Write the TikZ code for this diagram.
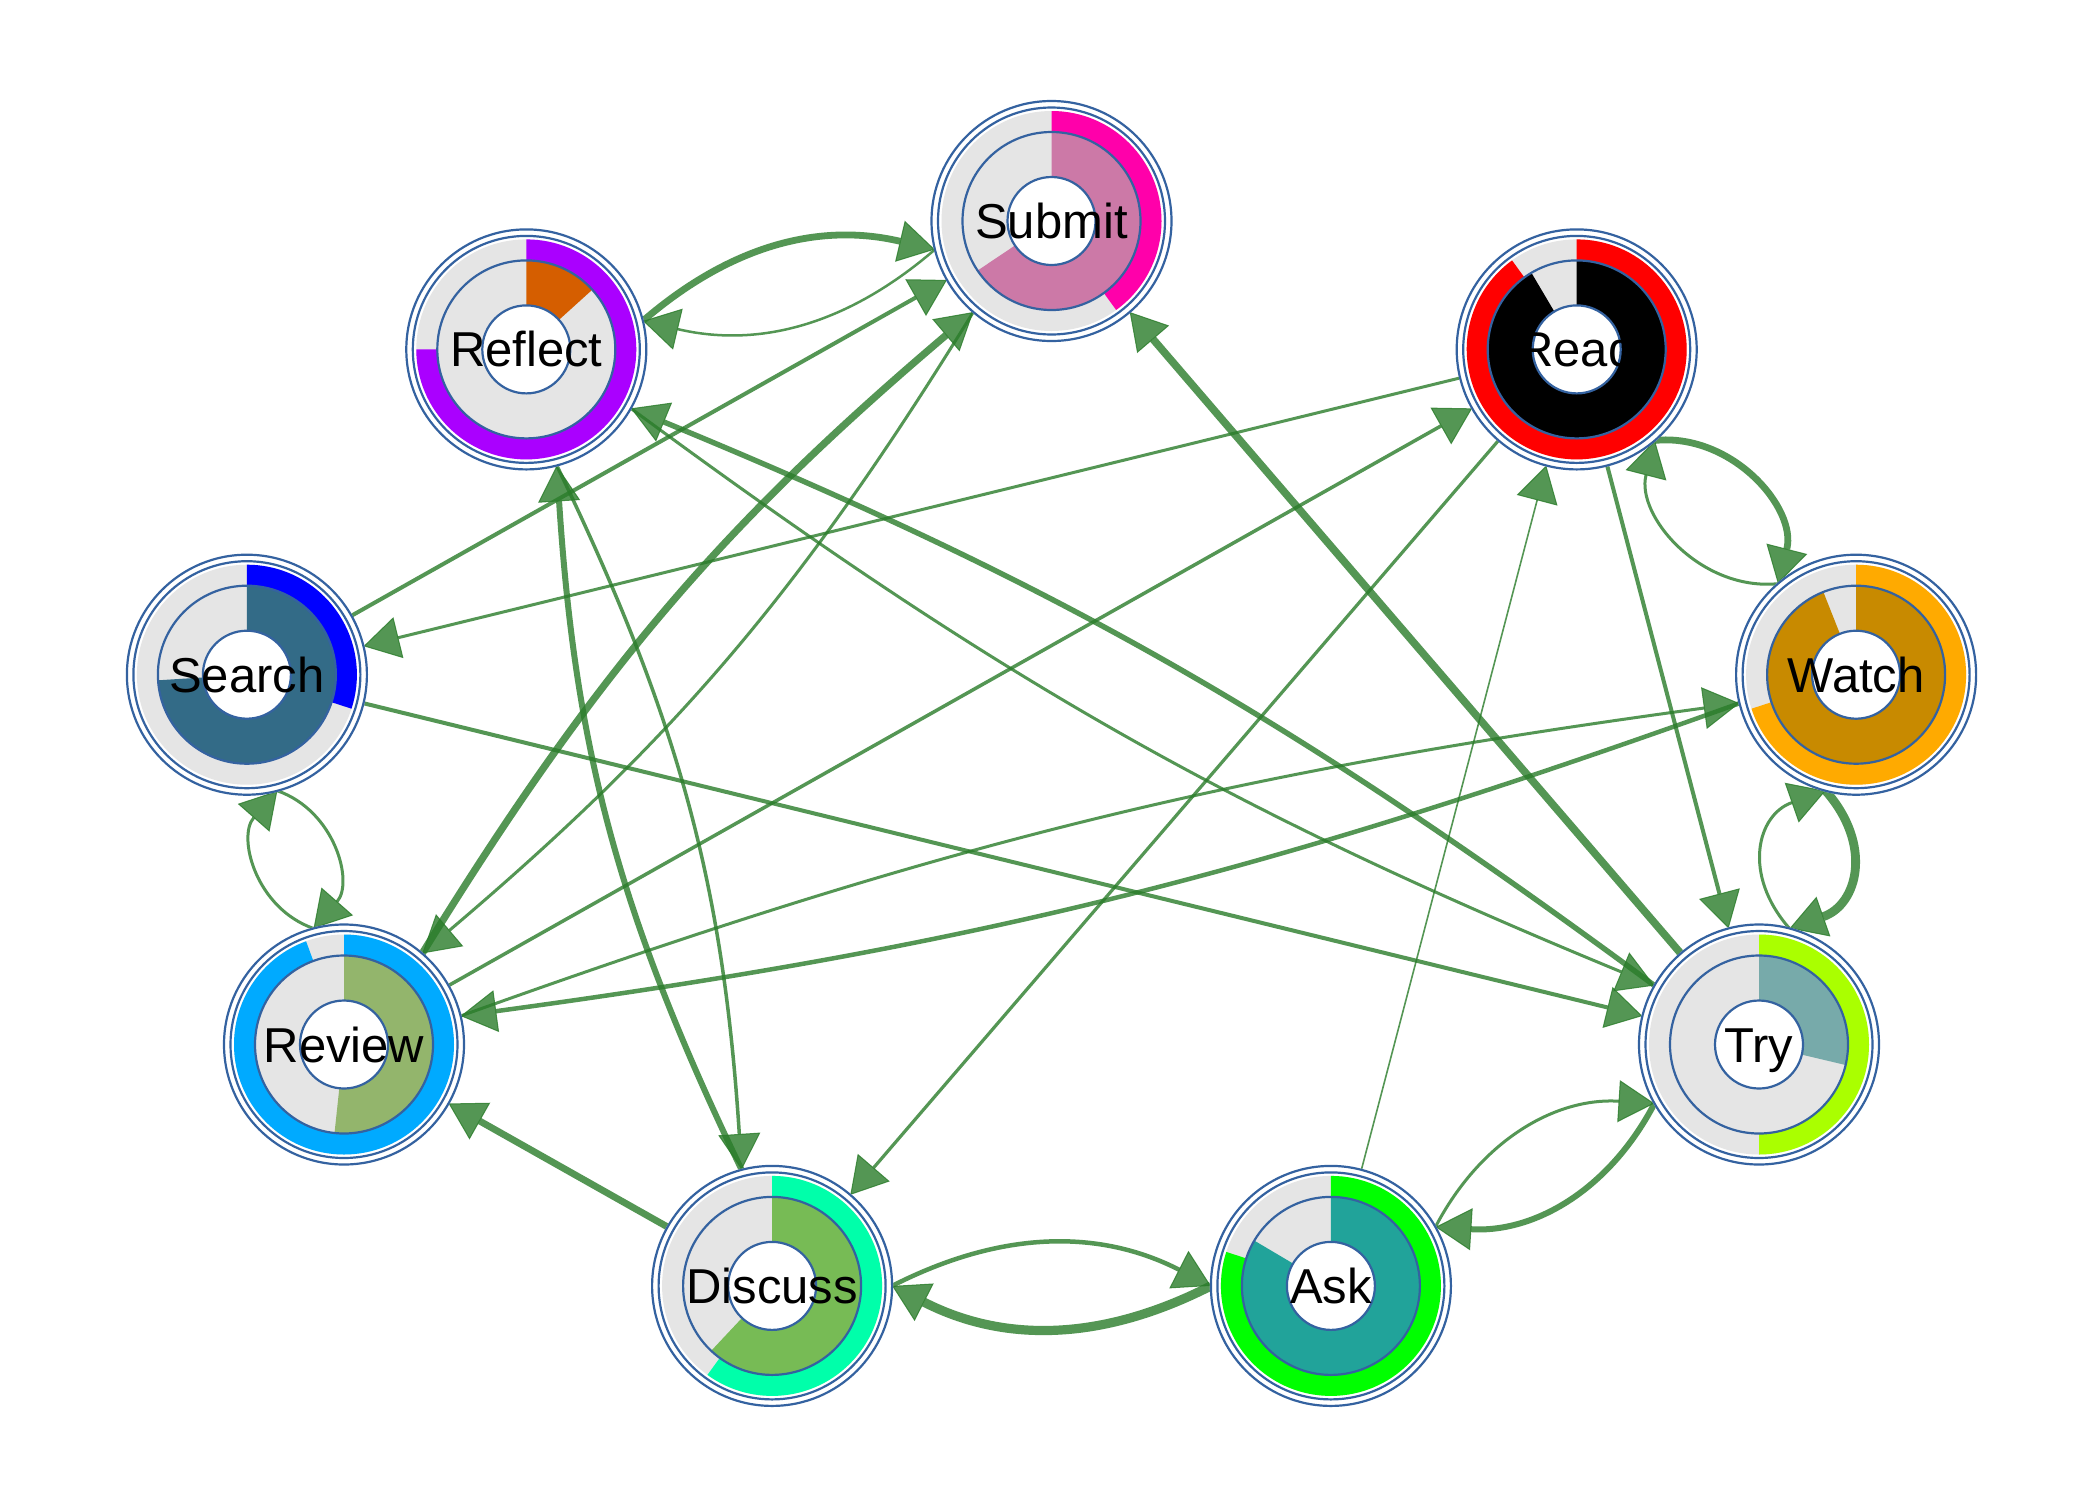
\documentclass[tikz,border=0pt]{standalone}
\usepackage{fontspec}
\setmainfont{Liberation Sans}
\usetikzlibrary{arrows.meta,calc}
\definecolor{ringgrey}{HTML}{E5E5E5}
\definecolor{nodeblue}{HTML}{3462A0}
\definecolor{edgegreen}{HTML}{2A7C2A}
\definecolor{subO}{HTML}{FF00AA}\definecolor{subI}{HTML}{CC79A7}
\definecolor{refO}{HTML}{AA00FF}\definecolor{refI}{HTML}{D55E00}
\definecolor{readO}{HTML}{FF0000}\definecolor{readI}{HTML}{000000}
\definecolor{watO}{HTML}{FFAA00}\definecolor{watI}{HTML}{C88A00}
\definecolor{tryO}{HTML}{AAFF00}\definecolor{tryI}{HTML}{77AAAA}
\definecolor{askO}{HTML}{00FF00}\definecolor{askI}{HTML}{21A39A}
\definecolor{disO}{HTML}{00FFAA}\definecolor{disI}{HTML}{77BB55}
\definecolor{revO}{HTML}{00AAFF}\definecolor{revI}{HTML}{93B56C}
\definecolor{seaO}{HTML}{0000FF}\definecolor{seaI}{HTML}{336B87}
% 1 unit = 0.25pt = 1 px of the 2100x1500 reference
\tikzset{
  vtx/.style={circle, minimum size=60pt, inner sep=0pt, outer sep=0pt},
  nline/.style={draw=nodeblue, line width=0.55pt},
  lbl/.style={font=\fontsize{12.25}{14}\selectfont, text=black, inner sep=0pt, anchor=base},
  ed/.style={draw=edgegreen, opacity=0.8, line cap=butt,
    -{Triangle[length=9pt,width=10.5pt,line width=0.25pt]}}
}
% #1 name, #2 outer frac, #3 outer colour, #4 inner frac, #5 inner colour, #6 label
\newcommand{\donut}[6]{%
  \begin{scope}[shift={(#1.center)}]
    \fill[white] (0,0) circle[radius=121];
    \fill[ringgrey] (0,0) circle[radius=110];
    \fill[#3] (90:110) arc[start angle=90, delta angle={-360*#2}, radius=110]
      -- ({90-360*#2}:89) arc[start angle={90-360*#2}, delta angle={360*#2}, radius=89] -- cycle;
    \fill[#5] (0,0) -- (90:89) arc[start angle=90, delta angle={-360*#4}, radius=89] -- cycle;
    \draw[nline] (0,0) circle[radius=120] (0,0) circle[radius=113.5] (0,0) circle[radius=89];
    \draw[nline, fill=white] (0,0) circle[radius=44];
    \node[lbl] (#1lbl) at (0,-17.5) {#6};
  \end{scope}}
% curved edge: #1 width, #2 from, #3 to, #4 bend, #5 looseness
\newcommand{\cedge}[5]{%
  \draw[ed, line width=#1] ($(#2.center)!30pt!(#3.center)$)
    to[bend left=#4, looseness=#5] ($(#3.center)!30pt!(#2.center)$);}
\begin{document}
\begin{tikzpicture}[x=0.25pt,y=0.25pt]
\fill[white] (0,-1500) rectangle (2100,0);
\useasboundingbox (0,-1500) rectangle (2100,0);
% vertices
\node[vtx] (Submit)  at (1051.5,-221) {};
\node[vtx] (Read)    at (1576.7,-349.4) {};
\node[vtx] (Watch)   at (1856.1,-674.7) {};
\node[vtx] (Try)     at (1759.0,-1044.5) {};
\node[vtx] (Ask)     at (1330.9,-1285.9) {};
\node[vtx] (Discuss) at (772.1,-1285.9) {};
\node[vtx] (Review)  at (344.0,-1044.5) {};
\node[vtx] (Search)  at (246.9,-674.7) {};
\node[vtx] (Reflect) at (526.3,-349.4) {};
% straight edges
\draw[ed, line width=1pt]     (Search) -- (Submit);
\draw[ed, line width=0.75pt]  (Read) -- (Search);
\draw[ed, line width=1pt]     (Search) -- (Try);
\draw[ed, line width=1.9pt]   (Try) -- (Submit);
\draw[ed, line width=1pt]     (Read) -- (Try);
\draw[ed, line width=0.8pt]   (Read) -- (Discuss);
\draw[ed, line width=0.4pt]   (Ask) -- (Read);
\draw[ed, line width=0.875pt] (Review) -- (Read);
\draw[ed, line width=1.7pt]   (Discuss) -- (Review);
% reciprocal (curved) edges
\cedge{1.7pt}{Reflect}{Submit}{27}{1}
\cedge{0.625pt}{Submit}{Reflect}{27}{1}
\cedge{1.8pt}{Review}{Submit}{9}{1}
\cedge{0.75pt}{Submit}{Review}{9}{1}
\cedge{1.35pt}{Try}{Reflect}{-7}{1}
\cedge{0.75pt}{Reflect}{Try}{-7}{1}
\cedge{1.7pt}{Read}{Watch}{55}{1.05}
\cedge{0.75pt}{Watch}{Read}{55}{1.05}
\cedge{2.2pt}{Watch}{Try}{56}{1.3}
\cedge{0.75pt}{Try}{Watch}{56}{1.3}
\cedge{0.75pt}{Search}{Review}{56}{1.1}
\cedge{0.75pt}{Review}{Search}{56}{1.1}
\cedge{1.5pt}{Discuss}{Reflect}{11}{1}
\cedge{0.875pt}{Reflect}{Discuss}{11}{1}
\cedge{1.125pt}{Discuss}{Ask}{27}{1}
\cedge{2.3pt}{Ask}{Discuss}{27}{1}
\cedge{0.75pt}{Ask}{Try}{33}{1}
\cedge{1.5pt}{Try}{Ask}{33}{1}
\cedge{0.75pt}{Review}{Watch}{6}{1}
\cedge{1.125pt}{Watch}{Review}{6}{1}
% node graphics
\donut{Submit}{0.40}{subO}{0.656}{subI}{Submit}
\donut{Reflect}{0.75}{refO}{0.133}{refI}{Reflect}
\donut{Read}{0.90}{readO}{0.915}{readI}{Read}
\donut{Search}{0.30}{seaO}{0.74}{seaI}{Search}
\donut{Watch}{0.70}{watO}{0.94}{watI}{Watch}
\donut{Review}{0.944}{revO}{0.517}{revI}{Review}
\donut{Try}{0.50}{tryO}{0.287}{tryI}{Try}
\donut{Discuss}{0.60}{disO}{0.62}{disI}{Discuss}
\donut{Ask}{0.80}{askO}{0.835}{askI}{Ask}
\end{tikzpicture}
\end{document}
